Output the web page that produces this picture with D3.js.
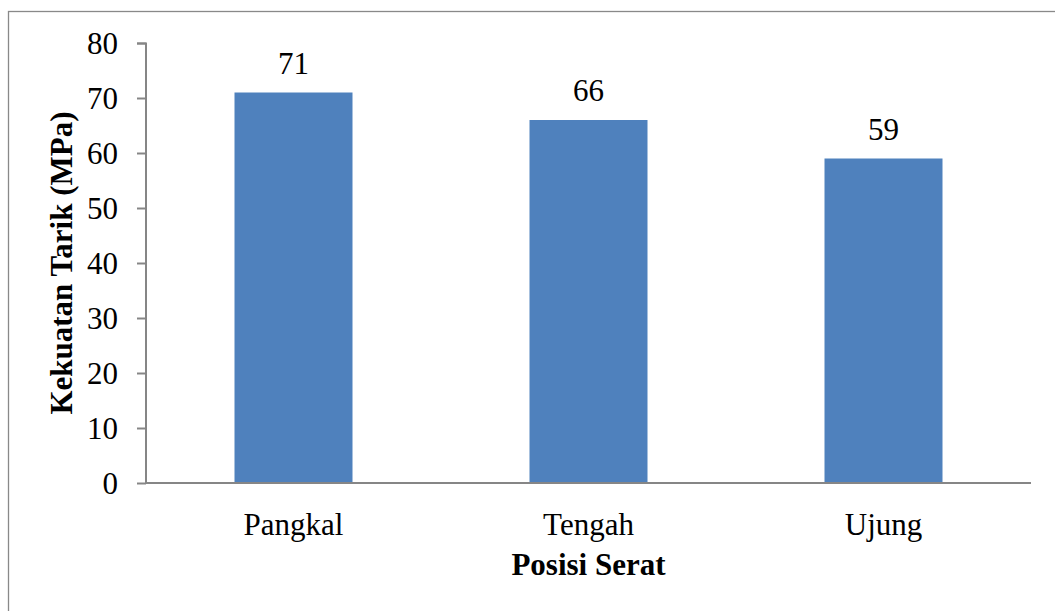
<!DOCTYPE html>
<html>
<head>
<meta charset="utf-8">
<script src="https://cdn.jsdelivr.net/npm/d3@7"></script>
</head>
<body>
<svg id="chart"></svg>
<script>
var categories = ["Pangkal", "Tengah", "Ujung"];
var values = [71, 66, 59];
var yTicks = [0, 10, 20, 30, 40, 50, 60, 70, 80];

var W = 1055, H = 611;
var margin = { top: 43, right: 24, bottom: 128, left: 146 },
    width = W - margin.left - margin.right,
    height = H - margin.top - margin.bottom;

d3.select('body').style('margin', '0px');
var root = d3.select('#chart').attr('width', W).attr('height', H)
    .style('font-family', '"Liberation Serif"');

// outer frame, only top and left edges fall inside the picture
root.append('rect')
    .attr('x', 8.5).attr('y', 11.5)
    .attr('width', W).attr('height', H)
    .attr('fill', 'none').attr('stroke', '#898989').attr('stroke-width', 1.3);

var svg = root.append('g')
    .attr('transform', 'translate(' + margin.left + ',' + margin.top + ')');

var x = d3.scaleBand().domain(categories).range([0, width])
    .paddingInner(0.6).paddingOuter(0.3);
var y = d3.scaleLinear().domain([0, 80]).range([height, 0]);

// bars
svg.selectAll('rect.bar').data(values).enter().append('rect')
    .attr('class', 'bar')
    .attr('x', function(d, i) { return x(categories[i]); })
    .attr('y', function(d) { return y(d); })
    .attr('width', x.bandwidth())
    .attr('height', function(d) { return height - y(d); })
    .attr('fill', '#4F81BD');

// value labels
svg.selectAll('text.val').data(values).enter().append('text')
    .attr('class', 'val')
    .attr('x', function(d, i) { return x(categories[i]) + x.bandwidth() / 2; })
    .attr('y', function(d) { return y(d) - 19; })
    .attr('text-anchor', 'middle')
    .attr('font-family', 'Liberation Serif')
    .attr('font-size', 31)
    .text(function(d) { return d; });

// y axis
var yAxis = d3.axisLeft(y).tickValues(yTicks).tickSize(9).tickPadding(19);
var gy = svg.append('g').call(yAxis)
    .attr('font-family', 'Liberation Serif').attr('font-size', 31);
gy.select('.domain').attr('stroke', '#868686').attr('stroke-width', 2).attr('d', 'M-9,0.5H0V' + height);
gy.selectAll('.tick line').attr('stroke', '#868686').attr('stroke-width', 2);
gy.selectAll('.tick text').attr('fill', '#000').attr('dy', '0.34em');

// x axis
var xAxis = d3.axisBottom(x).tickSize(0).tickPadding(30);
var gx = svg.append('g').attr('transform', 'translate(0,' + height + ')').call(xAxis)
    .attr('font-family', 'Liberation Serif').attr('font-size', 31);
gx.select('.domain').attr('stroke', '#868686').attr('stroke-width', 2).attr('d', 'M0,0H' + width);
gx.selectAll('.tick text').attr('fill', '#000').attr('dy', '0.71em');

// axis titles
svg.append('text')
    .attr('x', width / 2).attr('y', height + 92)
    .attr('text-anchor', 'middle')
    .attr('font-family', 'Liberation Serif')
    .attr('font-size', 31).attr('font-weight', 'bold')
    .text('Posisi Serat');

svg.append('text')
    .attr('transform', 'translate(' + (72 - margin.left) + ',' + (height / 2) + ') rotate(-90)')
    .attr('text-anchor', 'middle')
    .attr('font-family', 'Liberation Serif')
    .attr('font-size', 31).attr('font-weight', 'bold')
    .text('Kekuatan Tarik (MPa)');
</script>
</body>
</html>
